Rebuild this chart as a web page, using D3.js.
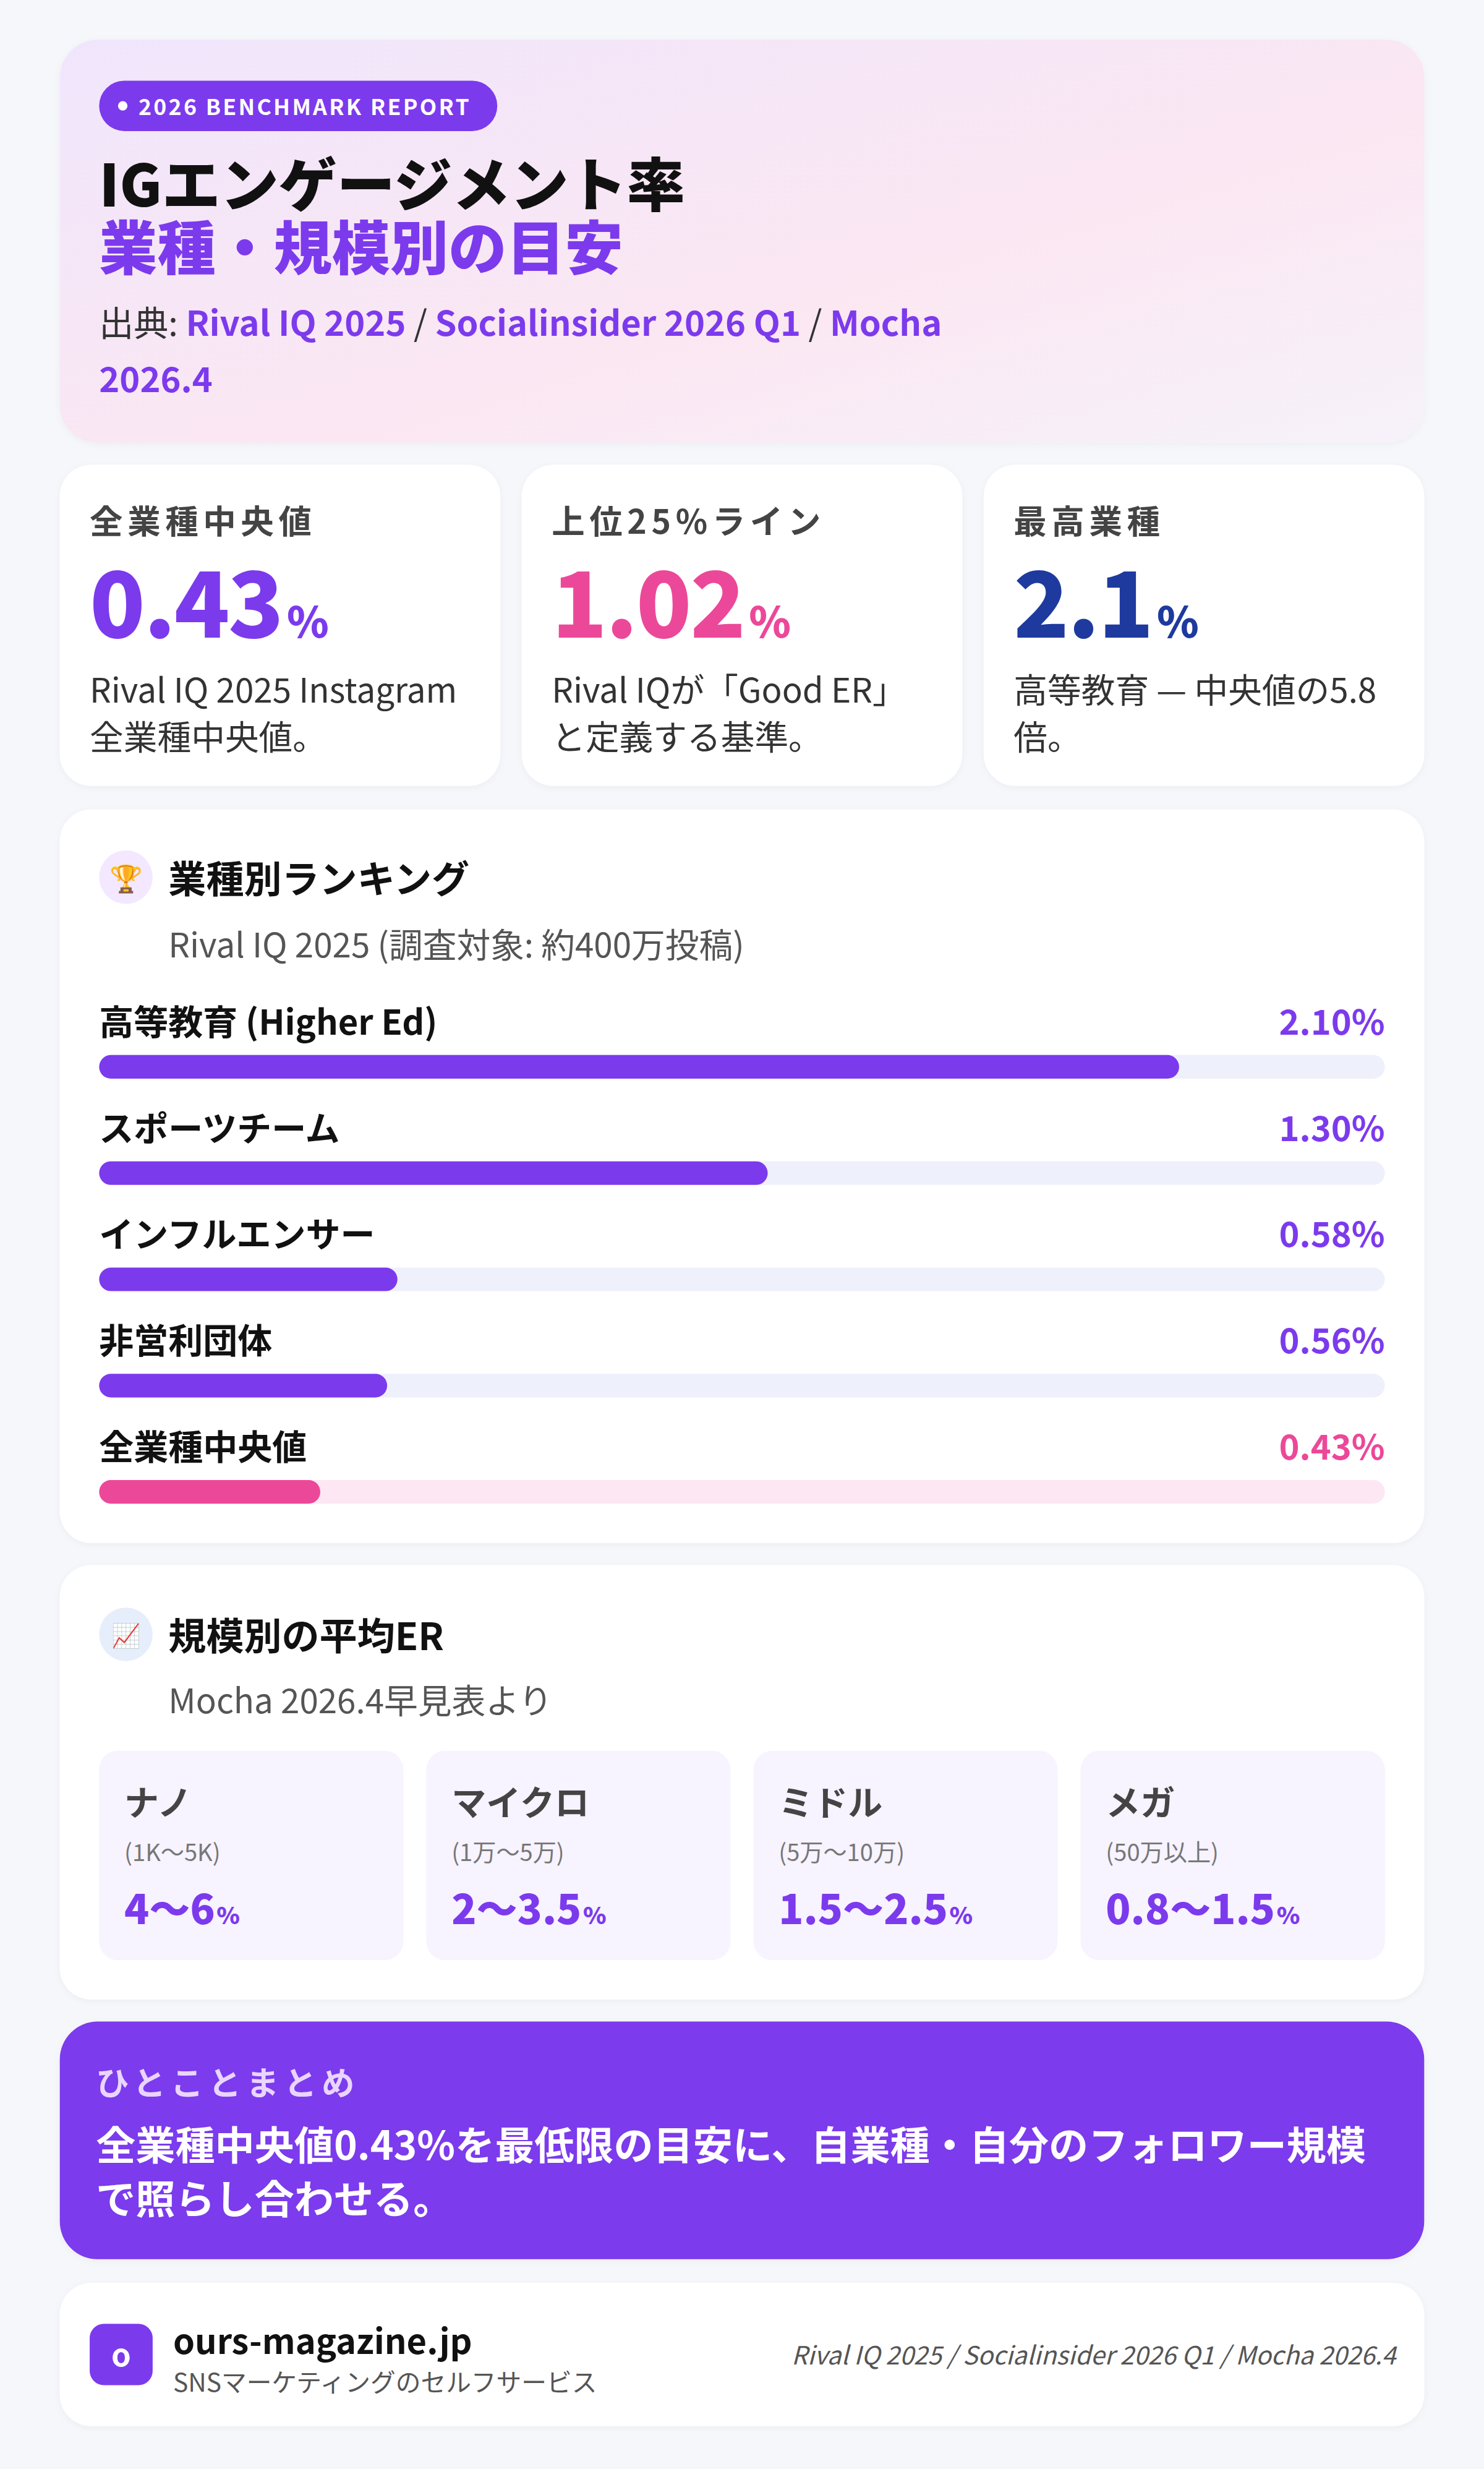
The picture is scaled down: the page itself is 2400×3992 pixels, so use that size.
<!DOCTYPE html>
<html><head><meta charset="utf-8">
<script src="https://cdn.jsdelivr.net/npm/d3@7"></script>
<style>
html,body{margin:0;padding:0;background:#f6f7fb;}
svg{display:block;font-family:"Noto Sans CJK JP","Noto Sans",sans-serif;}
</style></head>
<body><svg id="chart" width="2400" height="3992" viewBox="0 0 943 1568"></svg>
<script>
// data
const kpiLabels = ["全業種中央値", "上位25%ライン", "最高業種"];
const kpiValues = ["0.43", "1.02", "2.1"];
const kpiDesc = [["Rival IQ 2025 Instagram", "全業種中央値。"], ["Rival IQが「Good ER」", "と定義する基準。"], ["高等教育 — 中央値の5.8", "倍。"]];
const rankLabels = ["高等教育 (Higher Ed)", "スポーツチーム", "インフルエンサー", "非営利団体", "全業種中央値"];
const rankValues = [2.10, 1.30, 0.58, 0.56, 0.43];
const tierNames = ["ナノ", "マイクロ", "ミドル", "メガ"];
const tierRanges = ["(1K〜5K)", "(1万〜5万)", "(5万〜10万)", "(50万以上)"];
const tierValues = ["4〜6", "2〜3.5", "1.5〜2.5", "0.8〜1.5"];

const purple = "#7c3aed", pink = "#ec4899", navy = "#1e3a9f";
const svg = d3.select("#chart");
svg.append("rect").attr("width", 943).attr("height", 1568).attr("fill", "#f6f7fb");

const defs = svg.append("defs");
const grad = defs.append("linearGradient").attr("id", "hdr").attr("x1", 0).attr("y1", 0).attr("x2", 1).attr("y2", 1);
grad.append("stop").attr("offset", "0%").attr("stop-color", "#f0e6fc");
grad.append("stop").attr("offset", "60%").attr("stop-color", "#fbe7f2");
grad.append("stop").attr("offset", "100%").attr("stop-color", "#f6f2fa");
const sh = defs.append("filter").attr("id", "sh").attr("x", "-5%").attr("y", "-5%").attr("width", "110%").attr("height", "120%");
sh.append("feDropShadow").attr("dx", 0).attr("dy", 1).attr("stdDeviation", 2).attr("flood-color", "#000").attr("flood-opacity", 0.04);

function card(x, y, w, h, fill, r) {
  return svg.append("rect").attr("x", x).attr("y", y).attr("width", w).attr("height", h)
    .attr("rx", r || 20).attr("fill", fill || "#fff").attr("filter", "url(#sh)");
}

// header
card(38, 25, 867, 256, "url(#hdr)", 24);
svg.append("rect").attr("x", 63).attr("y", 51).attr("width", 253).attr("height", 32).attr("rx", 16).attr("fill", purple);
svg.append("circle").attr("cx", 78).attr("cy", 67).attr("r", 3).attr("fill", "#fff");
svg.append("text").attr("x", 88).attr("y", 73).attr("fill", "#fff").attr("font-size", 14).attr("font-weight", 700)
  .attr("letter-spacing", 1.3).text("2026 BENCHMARK REPORT");
svg.append("text").attr("x", 63).attr("y", 131).attr("font-size", 37).attr("font-weight", 900).attr("fill", "#111").text("IGエンゲージメント率");
svg.append("text").attr("x", 63).attr("y", 171).attr("font-size", 37).attr("font-weight", 900).attr("fill", purple).text("業種・規模別の目安");
const src = svg.append("text").attr("x", 63).attr("y", 213).attr("font-size", 22).attr("fill", "#333");
src.append("tspan").text("出典: ");
[["Rival IQ 2025", true], [" / ", false], ["Socialinsider 2026 Q1", true], [" / ", false], ["Mocha", true]].forEach(([t, b]) =>
  src.append("tspan").attr("fill", b ? purple : "#333").attr("font-weight", b ? 700 : 400).text(t));
svg.append("text").attr("x", 63).attr("y", 249).attr("font-size", 22).attr("font-weight", 700).attr("fill", purple).text("2026.4");

// KPI cards
const kx = d3.scaleBand().domain(d3.range(3)).range([38, 905]).paddingInner(0.0465);
const kColors = [purple, pink, navy];
kpiLabels.forEach((lab, i) => {
  const x = kx(i);
  card(x, 295, kx.bandwidth(), 204);
  svg.append("text").attr("x", x + 19).attr("y", 339).attr("font-size", 21).attr("font-weight", 700).attr("fill", "#444")
    .attr("letter-spacing", 3).text(lab);
  const t = svg.append("text").attr("x", x + 19).attr("y", 405).attr("fill", kColors[i]).attr("font-weight", 900);
  t.append("tspan").attr("font-size", 58).attr("letter-spacing", -1).text(kpiValues[i]);
  t.append("tspan").attr("font-size", 27).attr("dx", 3).text("%");
  kpiDesc[i].forEach((d, j) => svg.append("text").attr("x", x + 19).attr("y", 446 + j * 30).attr("font-size", 21.5).attr("fill", "#333").text(d));
});

// ranking card
card(38, 514, 867, 466);
svg.append("circle").attr("cx", 80).attr("cy", 557).attr("r", 17).attr("fill", "#f3e8ff");
svg.append("text").attr("x", 80).attr("y", 564).attr("text-anchor", "middle").attr("font-size", 17).text("🏆");
svg.append("text").attr("x", 107).attr("y", 567).attr("font-size", 24).attr("font-weight", 700).attr("fill", "#111").text("業種別ランキング");
svg.append("text").attr("x", 107).attr("y", 608).attr("font-size", 21.5).attr("fill", "#555").text("Rival IQ 2025 (調査対象: 約400万投稿)");

const x = d3.scaleLinear().domain([0, 2.5]).range([63, 880]);
const y = d3.scaleBand().domain(rankLabels).range([630, 967.5]);
const rows = svg.append("g").selectAll("g").data(rankLabels).join("g")
  .attr("transform", d => `translate(0,${y(d)})`);
rows.append("text").attr("x", 63).attr("y", 27).attr("font-size", 22).attr("font-weight", 700).attr("fill", "#111").text(d => d);
rows.append("text").attr("x", 880).attr("y", 27).attr("text-anchor", "end").attr("font-size", 22).attr("font-weight", 700)
  .attr("fill", (d, i) => i === 4 ? pink : purple).text((d, i) => rankValues[i].toFixed(2) + "%");
rows.append("rect").attr("x", x(0)).attr("y", 40).attr("height", 15).attr("rx", 7.5).attr("width", x(2.5) - x(0))
  .attr("fill", (d, i) => i === 4 ? "#fce7f3" : "#eef0fb");
rows.append("rect").attr("x", x(0)).attr("y", 40).attr("height", 15).attr("rx", 7.5)
  .attr("width", (d, i) => x(rankValues[i]) - x(0)).attr("fill", (d, i) => i === 4 ? pink : purple);

// scale card
card(38, 994, 867, 276);
svg.append("circle").attr("cx", 80).attr("cy", 1038).attr("r", 17).attr("fill", "#e6eefc");
svg.append("text").attr("x", 80).attr("y", 1044).attr("text-anchor", "middle").attr("font-size", 15).text("📈");
svg.append("text").attr("x", 107).attr("y", 1048).attr("font-size", 24).attr("font-weight", 700).attr("fill", "#111").text("規模別の平均ER");
svg.append("text").attr("x", 107).attr("y", 1088).attr("font-size", 21.5).attr("fill", "#555").text("Mocha 2026.4早見表より");
const tx = d3.scaleBand().domain(tierNames).range([63, 880]).paddingInner(0.07);
const tiles = svg.append("g").selectAll("g").data(tierNames).join("g").attr("transform", d => `translate(${tx(d)},1112)`);
tiles.append("rect").attr("width", tx.bandwidth()).attr("height", 133).attr("rx", 12).attr("fill", "#f7f3ff");
tiles.append("text").attr("x", 16).attr("y", 41).attr("font-size", 22).attr("font-weight", 700).attr("fill", "#444").text(d => d);
tiles.append("text").attr("x", 16).attr("y", 70).attr("font-size", 15).attr("fill", "#777").text((d, i) => tierRanges[i]);
const tv = tiles.append("text").attr("x", 16).attr("y", 110).attr("fill", purple).attr("font-weight", 900);
tv.append("tspan").attr("font-size", 26).text((d, i) => tierValues[i]);
tv.append("tspan").attr("font-size", 15).attr("dx", 1).text("%");

// summary
card(38, 1284, 867, 151, purple, 24);
svg.append("text").attr("x", 61).attr("y", 1331).attr("font-size", 21).attr("font-weight", 700).attr("fill", "#e9d5ff").attr("letter-spacing", 3).text("ひとことまとめ");
["全業種中央値0.43%を最低限の目安に、自業種・自分のフォロワー規模", "で照らし合わせる。"].forEach((t, i) =>
  svg.append("text").attr("x", 61).attr("y", 1372 + i * 34).attr("font-size", 25.2).attr("font-weight", 700).attr("fill", "#fff").text(t));

// footer
card(38, 1450, 867, 91);
svg.append("rect").attr("x", 57).attr("y", 1476).attr("width", 40).attr("height", 39).attr("rx", 9).attr("fill", purple);
svg.append("text").attr("x", 77).attr("y", 1503).attr("text-anchor", "middle").attr("font-size", 20).attr("font-weight", 700).attr("fill", "#fff").text("o");
svg.append("text").attr("x", 110).attr("y", 1495).attr("font-size", 22).attr("font-weight", 700).attr("fill", "#111").text("ours-magazine.jp");
svg.append("text").attr("x", 110).attr("y", 1519).attr("font-size", 16).attr("fill", "#555").text("SNSマーケティングのセルフサービス");
svg.append("text").attr("x", 887).attr("y", 1502).attr("text-anchor", "end").attr("font-size", 16).attr("font-style", "italic")
  .attr("fill", "#555").text("Rival IQ 2025 / Socialinsider 2026 Q1 / Mocha 2026.4");
</script></body></html>
